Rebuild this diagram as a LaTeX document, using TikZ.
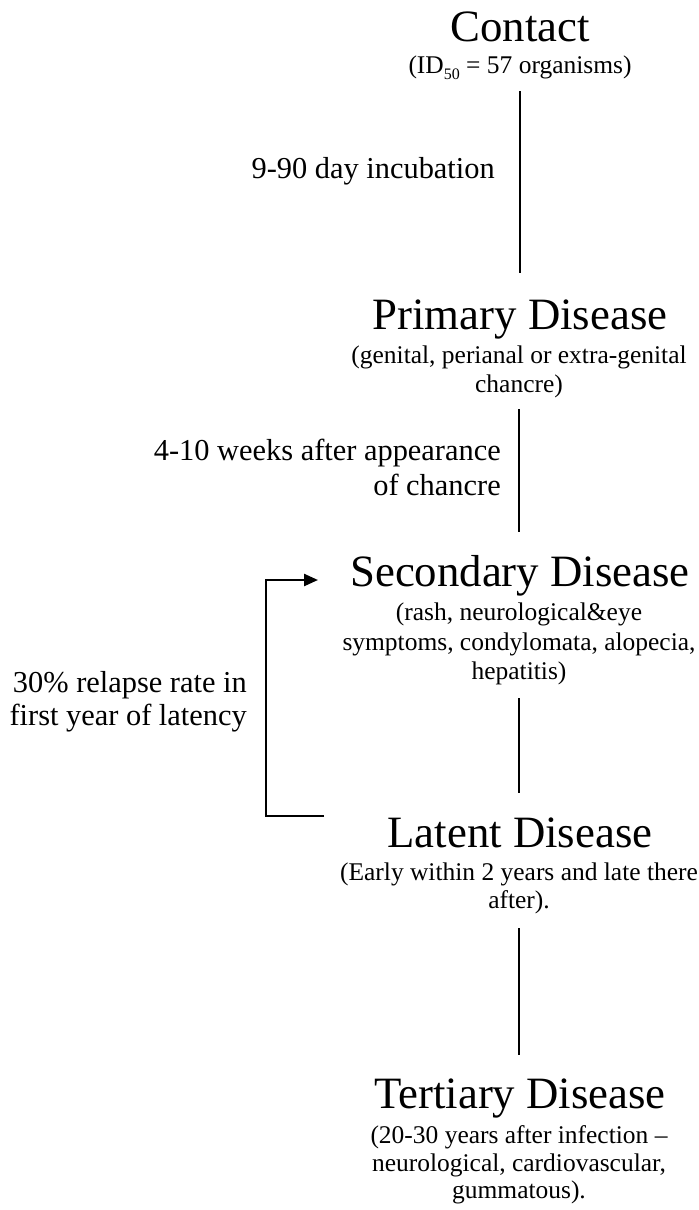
\documentclass[tikz,border=0pt]{standalone}
\usepackage{fontspec}
\setmainfont{Liberation Serif}
\usetikzlibrary{arrows.meta}
\tikzset{
  title/.style={anchor=base, inner sep=0pt, font=\fontsize{33.6}{40}\selectfont},
  sub/.style={anchor=base, inner sep=0pt, font=\fontsize{19.1}{22}\selectfont},
  lbl/.style={anchor=base east, inner sep=0pt, font=\fontsize{22.8}{27}\selectfont},
  conn/.style={line width=1.6pt, black},
  relapse/.style={line width=1.8pt, black, -{Triangle[length=10.5pt,width=9pt]}}
}
\begin{document}
\begin{tikzpicture}[x=0.75pt,y=-0.75pt]
\useasboundingbox (0,0) rectangle (699,1210);
% Contact
\node[title] (contact) at (520,41) {Contact};
\node[sub] (contactsub) at (520,73) {(ID\raisebox{-0.25em}{\fontsize{12}{12}\selectfont 50} = 57 organisms)};
% Primary
\node[title] (primary) at (520,329) {Primary Disease};
\node[sub] (primarysubA) at (519,363) {(genital, perianal or extra-genital};
\node[sub] (primarysubB) at (519,392) {chancre)};
% Secondary
\node[title] (secondary) at (520,586) {Secondary Disease};
\node[sub] (secondarysubA) at (519,620) {(rash, neurological\&eye};
\node[sub] (secondarysubB) at (519,650) {symptoms, condylomata, alopecia,};
\node[sub] (secondarysubC) at (519,679) {hepatitis)};
% Latent
\node[title] (latent) at (520,847) {Latent Disease};
\node[sub] (latentsubA) at (519,880) {(Early within 2 years and late there};
\node[sub] (latentsubB) at (519,908) {after).};
% Tertiary
\node[title] (tertiary) at (520,1108) {Tertiary Disease};
\node[sub] (tertiarysubA) at (519,1143) {(20-30 years after infection --};
\node[sub] (tertiarysubB) at (519,1171) {neurological, cardiovascular,};
\node[sub] (tertiarysubC) at (519,1198) {gummatous).};
% Labels
\node[lbl] (incub) at (495,178) {9-90 day incubation};
\node[lbl] (weeksA) at (501,460) {4-10 weeks after appearance};
\node[lbl] (weeksB) at (501,495) {of chancre};
\node[lbl] (relA) at (247,692) {30\% relapse rate in};
\node[lbl] (relB) at (247,725) {first year of latency};
% Connectors
\coordinate (c1a) at (520,91);   \coordinate (c1b) at (520,273);
\coordinate (c2a) at (519,409);  \coordinate (c2b) at (519,532);
\coordinate (c3a) at (519,698);  \coordinate (c3b) at (519,793);
\coordinate (c4a) at (519,928);  \coordinate (c4b) at (519,1055);
\draw[conn] (c1a) -- (c1b);
\draw[conn] (c2a) -- (c2b);
\draw[conn] (c3a) -- (c3b);
\draw[conn] (c4a) -- (c4b);
% Relapse arrow
\coordinate (rs) at (324,816);
\coordinate (re) at (318,580);
\draw[relapse] (rs) -- ++(-58,0) |- (re);
\end{tikzpicture}
\end{document}
